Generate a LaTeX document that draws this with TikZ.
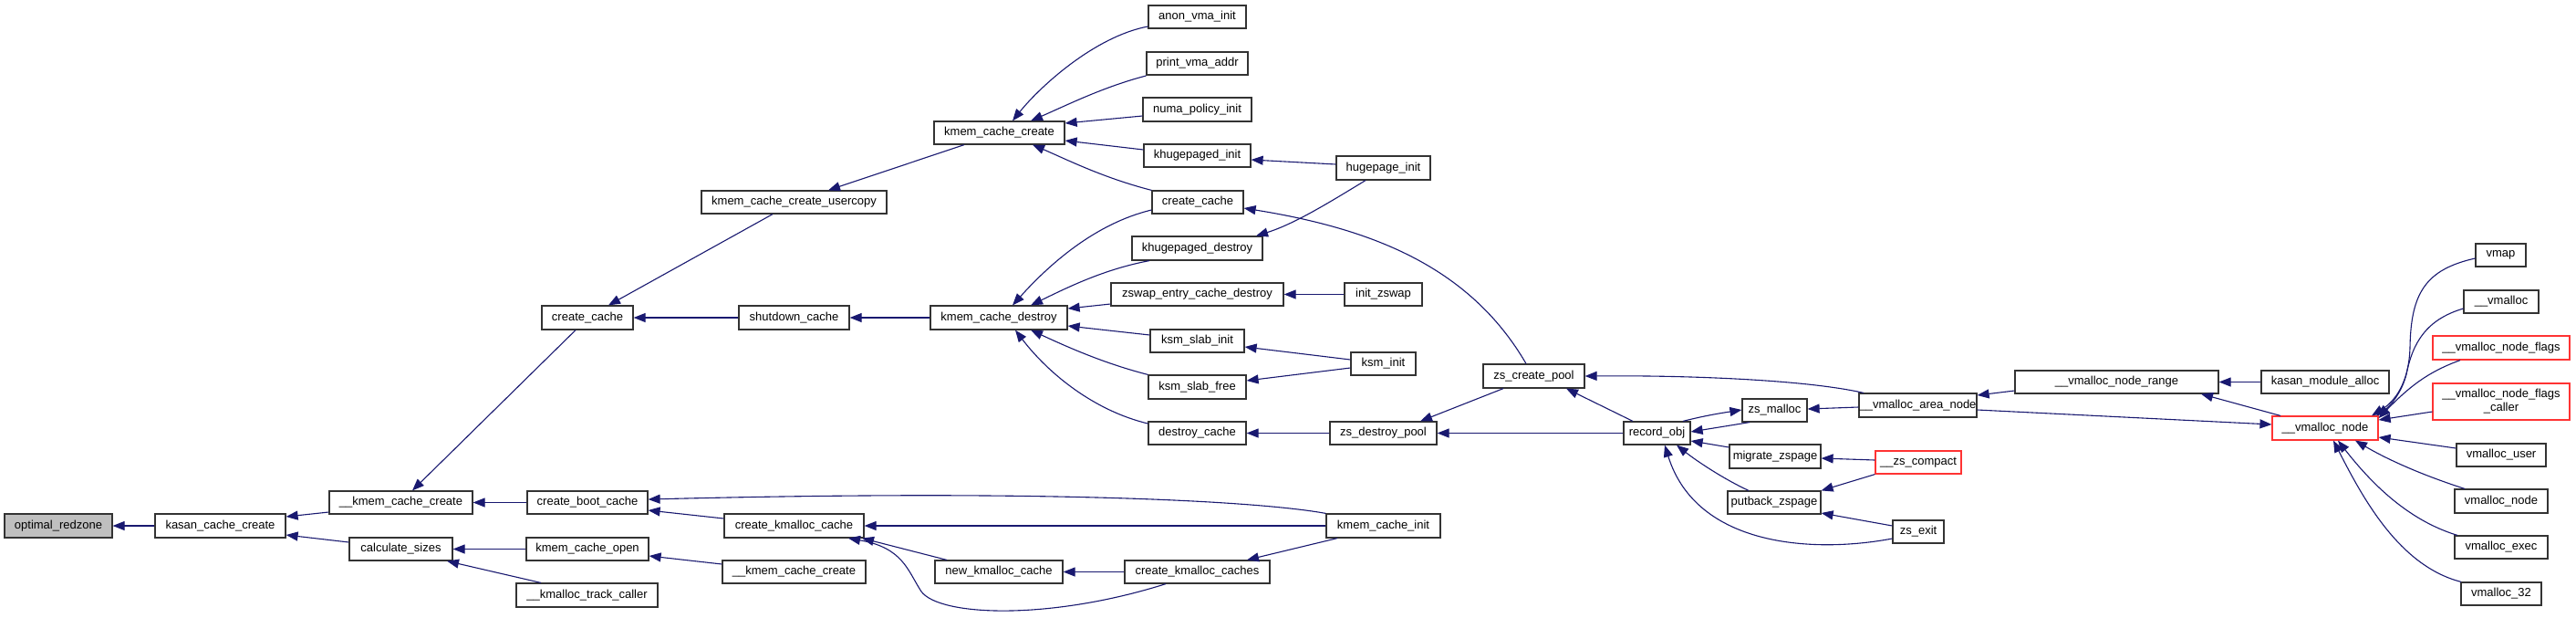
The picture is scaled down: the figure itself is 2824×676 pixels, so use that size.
\documentclass[tikz,border=0pt]{standalone}
\usepackage{fontspec}
\setmainfont{Liberation Sans}
\usetikzlibrary{arrows.meta}
\definecolor{edgec}{HTML}{191970}
\definecolor{boxc}{HTML}{333333}
\definecolor{redc}{HTML}{FF3333}
\definecolor{grayfill}{HTML}{BFBFBF}
\tikzset{
  fn/.style={draw=boxc, line width=0.6pt, fill=white, inner sep=0pt, align=center,
    font=\fontsize{6.5}{7.5}\selectfont},
  redfn/.style={draw=redc},
  call/.style={draw=edgec, line width=0.55pt, -{Triangle[length=6.5pt,width=5pt]}}
}
\newcommand\fnb[7][]{\node[fn,#1,minimum width={(#5-#3)*0.5pt},minimum height={(#6-#4)*0.5pt}] (#2) at ({(#3+#5)/2},{(#4+#6)/2}) {#7};}
\begin{document}
\begin{tikzpicture}[x=0.5pt,y=-0.5pt]
\useasboundingbox[fill=white] (0,0) rectangle (2824,676);
% nodes
\fnb[fill=grayfill]{opt}{5}{563}{123}{589}{optimal\_redzone}
\fnb{kasan}{170}{563}{313}{589}{kasan\_cache\_create}
\fnb{kmcc}{361}{538}{518}{563}{\_\_kmem\_cache\_create}
\fnb{calc}{383}{589}{496}{614}{calculate\_sizes}
\fnb{ccL}{594}{335}{694}{361}{create\_cache}
\fnb{kmccu}{769}{209}{972}{234}{kmem\_cache\_create\_usercopy}
\fnb{kmc}{1024}{133}{1167}{158}{kmem\_cache\_create}
\fnb{shut}{810}{335}{931}{361}{shutdown\_cache}
\fnb{kmcd}{1020}{335}{1170}{361}{kmem\_cache\_destroy}
\fnb{cbc}{578}{538}{710}{563}{create\_boot\_cache}
\fnb{kco}{577}{589}{711}{614}{kmem\_cache\_open}
\fnb{kmtc}{566}{639}{721}{665}{\_\_kmalloc\_track\_caller}
\fnb{ckc}{794}{563}{947}{589}{create\_kmalloc\_cache}
\fnb{kmcc2}{792}{614}{949}{639}{\_\_kmem\_cache\_create}
\fnb{nkc}{1025}{614}{1165}{639}{new\_kmalloc\_cache}
\fnb{ckcs}{1233}{614}{1392}{639}{create\_kmalloc\_caches}
\fnb{kci}{1454}{563}{1579}{589}{kmem\_cache\_init}
\fnb{anon}{1259}{6}{1366}{31}{anon\_vma\_init}
\fnb{pva}{1257}{57}{1368}{82}{print\_vma\_addr}
\fnb{numa}{1253}{107}{1372}{133}{numa\_policy\_init}
\fnb{khi}{1254}{158}{1371}{183}{khugepaged\_init}
\fnb{hpi}{1465}{171}{1568}{197}{hugepage\_init}
\fnb{ccR}{1263}{209}{1363}{234}{create\_cache}
\fnb{khd}{1241}{259}{1384}{285}{khugepaged\_destroy}
\fnb{zecd}{1218}{310}{1407}{335}{zswap\_entry\_cache\_destroy}
\fnb{izs}{1474}{310}{1559}{335}{init\_zswap}
\fnb{ksi}{1261}{361}{1364}{386}{ksm\_slab\_init}
\fnb{ksf}{1259}{411}{1366}{437}{ksm\_slab\_free}
\fnb{dc}{1259}{462}{1366}{487}{destroy\_cache}
\fnb{ksmi}{1481}{386}{1552}{411}{ksm\_init}
\fnb{zscp}{1626}{399}{1737}{425}{zs\_create\_pool}
\fnb{zsdp}{1458}{462}{1575}{487}{zs\_destroy\_pool}
\fnb{ro}{1780}{462}{1853}{487}{record\_obj}
\fnb{zsm}{1910}{437}{1981}{462}{zs\_malloc}
\fnb{vman}{2038}{431}{2167}{457}{\_\_vmalloc\_area\_node}
\fnb{vmnr}{2209}{406}{2432}{431}{\_\_vmalloc\_node\_range}
\fnb{mz}{1896}{487}{1996}{513}{migrate\_zspage}
\fnb[redfn]{zsc}{2056}{494}{2150}{519}{\_\_zs\_compact}
\fnb{pz}{1894}{538}{1996}{563}{putback\_zspage}
\fnb{zse}{2075}{570}{2131}{595}{zs\_exit}
\fnb{kma}{2479}{406}{2619}{431}{kasan\_module\_alloc}
\fnb[redfn]{vmn}{2491}{456}{2607}{482}{\_\_vmalloc\_node}
\fnb{vmap}{2714}{267}{2769}{292}{vmap}
\fnb{vmal}{2701}{318}{2783}{343}{\_\_vmalloc}
\fnb[redfn]{vnf}{2667}{368}{2817}{394}{\_\_vmalloc\_node\_flags}
\fnb[redfn]{vnfc}{2667}{420}{2817}{460}{\_\_vmalloc\_node\_flags\\\_caller}
\fnb{vmu}{2693}{486}{2791}{511}{vmalloc\_user}
\fnb{vmnd}{2691}{536}{2793}{562}{vmalloc\_node}
\fnb{vme}{2691}{587}{2793}{612}{vmalloc\_exec}
\fnb{vm32}{2698}{638}{2786}{663}{vmalloc\_32}
% edges
\draw[call] (kasan.west) -- (opt.east);
\draw[call] (kmcc.west |- 0,561) -- (kasan.east |- 0,566);
\draw[call] (calc.west |- 0,594) -- (kasan.east |- 0,586);
\draw[call] (ccL.south -| 631,0) -- (kmcc.north -| 452,0);
\draw[call] (kmccu.south -| 847,0) -- (ccL.north -| 667,0);
\draw[call] (kmc.south -| 1057,0) -- (kmccu.north -| 908,0);
\draw[call] (shut.west) -- (ccL.east);
\draw[call] (kmcd.west) -- (shut.east);
\draw[call] (cbc.west) -- (kmcc.east);
\draw[call] (kci.north west) .. controls (1380,549) and (1150,536) .. (cbc.east |- 0,547);
\draw[call] (ckc.west |- 0,568) -- (cbc.east |- 0,559);
\draw[call] (kci.west) -- (ckc.east);
\draw[call] (nkc.north -| 1038,0) -- (ckc.south -| 945,0);
\draw[call] (ckcs.south -| 1278,0) .. controls (1150,680) and (1030,675) .. (1010,648) .. controls (995,625) and (990,600) .. (ckc.south -| 930,0);
\draw[call] (ckcs.west) -- (nkc.east);
\draw[call] (kci.south -| 1466,0) -- (ckcs.north -| 1367,0);
\draw[call] (kco.west) -- (calc.east);
\draw[call] (kmtc.north -| 593,0) -- (calc.south -| 490,0);
\draw[call] (kmcc2.west |- 0,618) -- (kco.east |- 0,609);
% kmem_cache_create fan
\draw[call] (anon.west |- 0,29) .. controls (1200,40) and (1140,95) .. (kmc.north -| 1110,0);
\draw[call] (pva.west |- 0,83) .. controls (1210,95) and (1170,115) .. (kmc.north -| 1130,0);
\draw[call] (numa.west |- 0,127) -- (kmc.east |- 0,135);
\draw[call] (khi.west |- 0,164) -- (kmc.east |- 0,154);
\draw[call] (ccR.north west) .. controls (1210,195) and (1170,175) .. (kmc.south -| 1132,0);
\draw[call] (hpi.west |- 0,180) -- (khi.east |- 0,175);
\draw[call] (hpi.south -| 1497,0) .. controls (1460,220) and (1420,245) .. (khd.north -| 1377,0);
% kmem_cache_destroy fan
\draw[call] (ccR.west |- 0,230) .. controls (1200,245) and (1150,290) .. (kmcd.north -| 1110,0);
\draw[call] (khd.south -| 1260,0) .. controls (1210,295) and (1170,315) .. (kmcd.north -| 1130,0);
\draw[call] (zecd.west |- 0,333) -- (kmcd.east |- 0,338);
\draw[call] (ksi.west |- 0,367) -- (kmcd.east |- 0,357);
\draw[call] (ksf.north west) .. controls (1210,398) and (1170,380) .. (kmcd.south -| 1130,0);
\draw[call] (dc.west |- 0,464) .. controls (1200,450) and (1150,410) .. (kmcd.south -| 1113,0);
\draw[call] (izs.west) -- (zecd.east);
\draw[call] (ksmi.west |- 0,394) -- (ksi.east |- 0,380);
\draw[call] (ksmi.west |- 0,403) -- (ksf.east |- 0,417);
% zsmalloc
\draw[call] (zsdp.west) -- (dc.east);
\draw[call] (zscp.south -| 1648,0) -- (zsdp.north -| 1557,0);
\draw[call] (ro.west) -- (zsdp.east);
\draw[call] (ro.north -| 1790,0) -- (zscp.south -| 1717,0);
\draw[call] (zscp.north -| 1673,0) .. controls (1610,290) and (1500,250) .. (ccR.east |- 0,228);
\draw[call] (vman.north -| 2043,0) .. controls (1980,416) and (1850,411) .. (zscp.east |- 0,412);
\draw[call] (zsm.south -| 1918,0) -- (ro.east |- 0,473);
\draw[call] (ro.north -| 1845,0) .. controls (1870,455) and (1890,452) .. (zsm.west |- 0,449);
\draw[call] (mz.west |- 0,490) -- (ro.east |- 0,483);
\draw[call] (pz.north -| 1917,0) .. controls (1890,525) and (1860,505) .. (ro.south -| 1838,0);
\draw[call] (zse.west |- 0,590) .. controls (1990,606) and (1860,600) .. (ro.south -| 1825,0);
\draw[call] (vman.west |- 0,446) -- (zsm.east |- 0,448);
\draw[call] (zsc.west |- 0,504) -- (mz.east |- 0,502);
\draw[call] (zsc.south west) -- (pz.north east);
\draw[call] (zse.west |- 0,576) -- (pz.east |- 0,562);
% vmalloc
\draw[call] (vmnr.west |- 0,428) -- (vman.east |- 0,433);
\draw[call] (vman.east |- 0,449) -- (vmn.west |- 0,465);
\draw[call] (kma.west) -- (vmnr.east);
\draw[call] (vmn.north -| 2500,0) -- (vmnr.south -| 2413,0);
\draw[call] (vmap.west |- 0,283) .. controls (2660,295) and (2643,320) .. (2642,380) .. controls (2641,420) and (2625,440) .. (vmn.north -| 2600,0);
\draw[call] (vmal.west |- 0,338) .. controls (2660,350) and (2645,375) .. (2638,410) .. controls (2633,430) and (2620,445) .. (vmn.north -| 2605,0);
\draw[call] (vnf.south -| 2697,0) .. controls (2660,408) and (2640,425) .. (vmn.east |- 0,458);
\draw[call] (vnfc.west |- 0,451) -- (vmn.east |- 0,460);
\draw[call] (vmu.west |- 0,491) -- (vmn.east |- 0,479);
\draw[call] (vmnd.north -| 2702,0) .. controls (2660,522) and (2620,505) .. (vmn.south -| 2582,0);
\draw[call] (vme.north -| 2694,0) .. controls (2640,570) and (2600,530) .. (vmn.south -| 2563,0);
\draw[call] (vm32.north -| 2698,0) .. controls (2630,620) and (2590,545) .. (vmn.south -| 2558,0);
\end{tikzpicture}
\end{document}
